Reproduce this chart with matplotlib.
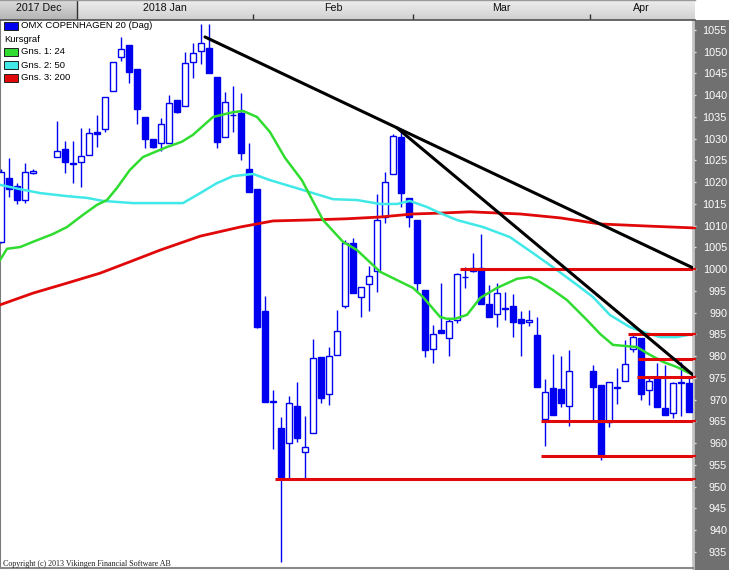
import numpy as np
import matplotlib
matplotlib.use("Agg")
import matplotlib.pyplot as plt
from matplotlib.patches import Rectangle
from matplotlib.colors import LinearSegmentedColormap

nan = np.nan

# ---------------- data (index = trading-day slot, NaN = holiday slot) ----------------
opens = [1006.3, 1021.0, 1019.1, 1015.9, 1022.2, nan, nan, 1025.8, 1027.6, 1024.5,
         1024.6, 1026.3, 1031.5, 1032.2, 1041.0, 1048.8, 1051.6, 1046.0, 1035.0, 1029.9,
         1029.0, 1029.0, 1038.9, 1037.5, 1047.6, 1050.2, 1050.9, 1044.2, 1030.4, 1035.5,
         1035.9, 1023.0, 1018.4, 990.4, 969.4, 963.5, 960.1, 968.6, 958.0, 962.4,
         979.8, 971.3, 980.3, 991.6, 1006.0, 993.6, 996.6, 999.6, 1012.0, 1021.9,
         1030.4, 1016.4, 1011.3, 995.2, 981.7, 986.0, 984.2, 988.3, 998.1, 999.5,
         1000.3, 992.0, 989.7, 991.1, 991.6, 988.6, 987.9, 984.9, 965.6, 972.7,
         972.5, 968.6, nan, nan, 976.6, 973.4, 964.9, 972.7, 974.3, 981.7,
         984.2, 972.2, 975.0, 968.1, 967.0, 973.8, 973.9]
highs = [1023.0, 1025.6, 1019.8, 1024.4, 1023.0, nan, nan, 1034.1, 1029.5, 1029.5,
         1032.5, 1032.5, 1035.5, 1039.6, 1047.6, 1053.4, 1051.6, 1046.0, 1035.0, 1029.9,
         1034.8, 1040.1, 1039.0, 1049.9, 1052.0, 1056.4, 1056.4, 1044.2, 1040.7, 1042.1,
         1040.5, 1029.0, 1018.4, 993.8, 972.2, 966.0, 970.9, 974.1, 966.3, 984.0,
         979.8, 982.1, 990.6, 1006.7, 1007.2, 995.9, 1000.7, 1017.3, 1022.4, 1031.0,
         1031.6, 1016.4, 1011.3, 995.2, 987.2, 996.8, 988.6, 999.1, 1000.5, 1003.7,
         1008.1, 996.4, 996.8, 994.8, 994.3, 990.4, 990.6, 989.0, 974.8, 980.5,
         980.1, 981.4, nan, nan, 978.0, 973.4, 974.1, 977.3, 983.7, 985.0,
         984.2, 975.2, 978.4, 978.0, 974.1, 978.7, 975.2]
lows = [1006.0, 1016.6, 1015.0, 1015.2, 1021.8, nan, nan, 1025.8, 1022.1, 1019.8,
        1018.9, 1026.3, 1028.1, 1031.6, 1041.0, 1047.9, 1042.8, 1033.4, 1027.9, 1027.8,
        1027.2, 1029.0, 1035.9, 1037.5, 1044.0, 1047.2, 1045.1, 1027.9, 1030.4, 1031.6,
        1025.1, 1017.8, 986.5, 969.5, 958.6, 932.7, 951.5, 960.3, 951.6, 962.4,
        969.3, 968.8, 980.3, 991.1, 994.5, 989.0, 990.4, 994.8, 1010.6, 1021.9,
        1014.3, 1009.7, 994.8, 979.8, 978.4, 985.3, 980.1, 987.6, 995.7, 999.4,
        992.0, 989.0, 986.7, 988.3, 984.4, 980.1, 987.0, 972.9, 959.4, 966.5,
        968.3, 964.0, nan, nan, 964.9, 956.1, 963.7, 969.0, 974.3, 981.0,
        969.9, 968.8, 968.3, 966.5, 965.8, 966.3, 967.2]
closes = [1022.4, 1018.4, 1015.9, 1022.4, 1022.5, nan, nan, 1027.2, 1024.6, 1024.3,
          1026.0, 1031.3, 1031.1, 1039.6, 1047.6, 1050.6, 1045.3, 1036.8, 1029.9, 1028.2,
          1033.4, 1038.2, 1036.1, 1047.4, 1049.7, 1052.0, 1045.1, 1029.3, 1038.4, 1035.5,
          1026.7, 1017.8, 986.7, 969.5, 969.8, 952.2, 969.3, 961.2, 959.1, 979.6,
          970.4, 980.1, 985.8, 1006.0, 994.5, 995.9, 998.4, 1011.3, 1020.1, 1030.6,
          1017.5, 1012.0, 996.8, 981.4, 985.1, 985.3, 988.1, 998.9, 998.3, 1000.3,
          992.0, 989.0, 994.5, 990.8, 987.9, 987.6, 988.3, 972.9, 971.8, 966.5,
          969.3, 976.6, nan, nan, 972.9, 957.1, 974.1, 972.9, 978.2, 984.4,
          971.3, 974.3, 968.3, 966.5, 973.9, 974.1, 967.2]

# moving averages (slot index, value)
ma24_x = [-0.125, 0.75, 2.4, 4.0, 6.5, 8.25, 10.25, 12.0, 13.25, 14.5, 16.1, 17.75, 20.75,
          22.6, 24.0, 26.5, 29.0, 30.25, 32.0, 33.6, 35.5, 37.6, 40.25, 42.75, 44.5, 47.4,
          49.5, 51.5, 52.75, 54.9, 55.75, 56.75, 58.25, 59.9, 62.0, 64.5, 66.1, 67.0, 69.0,
          70.75, 73.25, 74.9, 76.5, 79.5, 80.75, 82.75, 84.5, 86.5]
ma24_v = [1002.1, 1004.7, 1005.1, 1006.3, 1008.1, 1009.7, 1012.5, 1014.8, 1015.9, 1018.7,
          1022.8, 1025.8, 1028.1, 1029.3, 1030.9, 1035.0, 1036.1, 1036.4, 1035.0, 1031.6,
          1025.6, 1020.5, 1011.3, 1006.3, 1004.4, 999.4, 997.5, 995.7, 993.6, 989.0, 988.6,
          988.6, 989.5, 993.4, 995.7, 997.8, 998.2, 997.5, 995.2, 992.9, 988.3, 985.1, 982.6,
          982.1, 980.7, 978.7, 977.5, 975.7]
ma50_x = [-0.125, 2.4, 4.9, 8.25, 10.75, 12.75, 16.5, 19.9, 22.75, 24.9, 27.0, 29.0, 31.5,
          33.6, 37.75, 41.5, 44.5, 47.4, 49.5, 51.1, 53.25, 54.9, 57.0, 60.25, 63.6, 66.5,
          69.5, 72.0, 74.0, 76.1, 78.6, 80.75, 82.4, 84.5, 86.5]
ma50_v = [1019.4, 1018.4, 1017.5, 1016.8, 1016.4, 1015.7, 1015.2, 1015.2, 1015.2, 1017.5,
          1019.8, 1021.4, 1021.9, 1020.5, 1018.2, 1016.1, 1015.9, 1015.0, 1015.0, 1015.7,
          1014.3, 1012.9, 1011.3, 1009.7, 1007.4, 1003.7, 999.8, 996.4, 993.6, 989.5, 986.7,
          985.3, 984.4, 984.4, 985.1]
ma200_x = [-0.125, 4.0, 8.25, 12.4, 16.1, 19.9, 24.9, 29.9, 34.0, 38.25, 43.25, 47.4, 51.5,
           54.9, 58.6, 64.9, 69.9, 74.9, 81.1, 86.5]
ma200_v = [991.8, 994.5, 996.8, 999.1, 1001.7, 1004.4, 1007.6, 1009.7, 1011.1, 1011.3, 1011.6,
           1012.0, 1012.7, 1012.9, 1013.2, 1012.7, 1011.8, 1010.4, 1009.9, 1009.5]

# support / resistance levels and trend lines drawn on the chart
level_values = [1000.0, 985.1, 979.4, 975.2, 965.0, 957.1, 951.8]
level_starts = [57.4, 78.4, 79.6, 79.5, 67.5, 67.5, 34.3]
trend_x0 = [25.5, 49.5]
trend_y0 = [1053.4, 1032.5]
trend_x1 = [86.5, 86.5]
trend_y1 = [1000.3, 975.7]

# header months
month_names = ["2017 Dec", "2018 Jan", "Feb", "Mar", "Apr"]
month_bounds = [-0.125, 9.5, 31.5, 51.5, 73.6, 86.5]

yticks = list(range(935, 1056, 5))
legend_labels = ["OMX COPENHAGEN 20 (Dag)", "Kursgraf", "Gns. 1: 24", "Gns. 2: 50", "Gns. 3: 200"]

# ---------------- styling ----------------
BLUE = '#0000f0'
GREEN = '#30dc30'
CYAN = '#40e8e8'
RED = '#e00808'
legend_colors = [BLUE, None, GREEN, CYAN, RED]
SANS = 'Liberation Sans'

W, H = 729, 570
fig = plt.figure(figsize=(W / 100, H / 100), dpi=100)
fig.patch.set_facecolor('white')

xmin, xmax = -0.125, 86.5
ymin, ymax = 931.3, 1057.3

# right gray value panel
panel = fig.add_axes([693 / W, 0, 36 / W, 550 / H], zorder=1)
panel.set_facecolor('#707070')
panel.set_xticks([]); panel.set_yticks([])
for s in panel.spines.values():
    s.set_visible(False)

# main chart
ax = fig.add_axes([0, 2 / H, 693 / W, 548 / H], zorder=2)
ax.set_xlim(xmin, xmax)
ax.set_ylim(ymin, ymax)
ax.set_facecolor('white')

for i, (o, h, l, c) in enumerate(zip(opens, highs, lows, closes)):
    if np.isnan(o):
        continue
    ax.vlines(i, l, h, color=BLUE, lw=1.0, zorder=3)
    face = BLUE if c < o else 'white'
    ax.add_patch(Rectangle((i - 0.36, min(o, c)), 0.72, abs(c - o),
                           facecolor=face, edgecolor=BLUE, lw=1.0, zorder=4))

ax.plot(ma200_x, ma200_v, color=RED, lw=2.0, zorder=5)
ax.plot(ma50_x, ma50_v, color=CYAN, lw=1.8, zorder=5)
ax.plot(ma24_x, ma24_v, color=GREEN, lw=1.8, zorder=5)

ax.hlines(level_values, level_starts, xmax, color=RED, lw=2.2, zorder=6)
for x0, y0, x1, y1 in zip(trend_x0, trend_y0, trend_x1, trend_y1):
    ax.plot([x0, x1], [y0, y1], color='black', lw=2.2, zorder=7, solid_capstyle='round')

# little value markers just right of the plot edge
ax.hlines(level_values + [ma200_v[-1]], xmax, xmax + 0.4, color=RED, lw=1.6,
          zorder=8, clip_on=False)

ax.set_xticks([])
ax.set_yticks(yticks)
ax.set_yticklabels([str(t) for t in yticks])
ax.yaxis.tick_right()
ax.tick_params(axis='y', direction='out', length=2.2, width=1, color='#dcdcdc',
               labelcolor='white', labelsize=7.8, pad=22.3)
for t in ax.yaxis.get_major_ticks():
    t.label2.set_horizontalalignment('right')
    t.label2.set_family(SANS)

ax.spines['top'].set_visible(False)
ax.spines['left'].set_color('#7a7a7a'); ax.spines['left'].set_linewidth(1.5)
ax.spines['bottom'].set_color('#8a8a8a'); ax.spines['bottom'].set_linewidth(1.5)
ax.spines['right'].set_color('#c4c4c4'); ax.spines['right'].set_linewidth(2)

# header with months
hdr = fig.add_axes([0, 550 / H, 695 / W, 20 / H], zorder=3)
hdr_xmax = xmin + 695 / 8
grad = np.linspace(0, 1, 50).reshape(-1, 1)
light = LinearSegmentedColormap.from_list('light', ['#eeeeee', '#d0d0d0'])
dark = LinearSegmentedColormap.from_list('dark', ['#dcdcdc', '#b4b4b4'])
hdr.imshow(grad, extent=(xmin, hdr_xmax, 0, 1), aspect='auto', cmap=light, origin='upper', zorder=0)
hdr.imshow(grad, extent=(month_bounds[0], month_bounds[1], 0, 1), aspect='auto', cmap=dark,
           origin='upper', zorder=1)
hdr.set_xlim(xmin, hdr_xmax); hdr.set_ylim(0, 1)
hdr.vlines(month_bounds[1], 0, 1, color='#303030', lw=1.0, zorder=2)
hdr.vlines(month_bounds[2:-1], 0, 0.28, color='#303030', lw=1.0, zorder=2)
for k, name in enumerate(month_names):
    mid = (month_bounds[k] + month_bounds[k + 1]) / 2
    hdr.text(mid, 0.6, name, ha='center', va='center', fontsize=7.7, family=SANS,
             color='#101010', zorder=3)
hdr.set_xticks([]); hdr.set_yticks([])
for side, s in hdr.spines.items():
    s.set_visible(side in ('bottom', 'top'))
hdr.spines['bottom'].set_color('#505050'); hdr.spines['bottom'].set_linewidth(1.2)
hdr.spines['top'].set_color('#9a9a9a'); hdr.spines['top'].set_linewidth(1.0)

# legend (top-left inside the chart)
leg_y = [26, 39, 52, 65, 78]
for lab, col, yy in zip(legend_labels, legend_colors, leg_y):
    if col is None:
        fig.text(4 / W, 1 - yy / H, lab, fontsize=6.8, family=SANS, va='center', ha='left',
                 color='black', zorder=10)
    else:
        fig.add_artist(Rectangle((4 / W, 1 - (yy + 3.5) / H), 14 / W, 7 / H,
                                 transform=fig.transFigure, facecolor=col,
                                 edgecolor='#202020', lw=0.7, zorder=10))
        fig.text(21 / W, 1 - yy / H, lab, fontsize=6.8, family=SANS, va='center', ha='left',
                 color='black', zorder=10)

fig.text(3 / W, 1 - 563.5 / H, "Copyright (c) 2013 Vikingen Financial Software AB",
         fontsize=5.8, family='Liberation Serif', va='center', ha='left', color='#202020',
         zorder=10)

fig.savefig('out.png', dpi=100, facecolor='white')
